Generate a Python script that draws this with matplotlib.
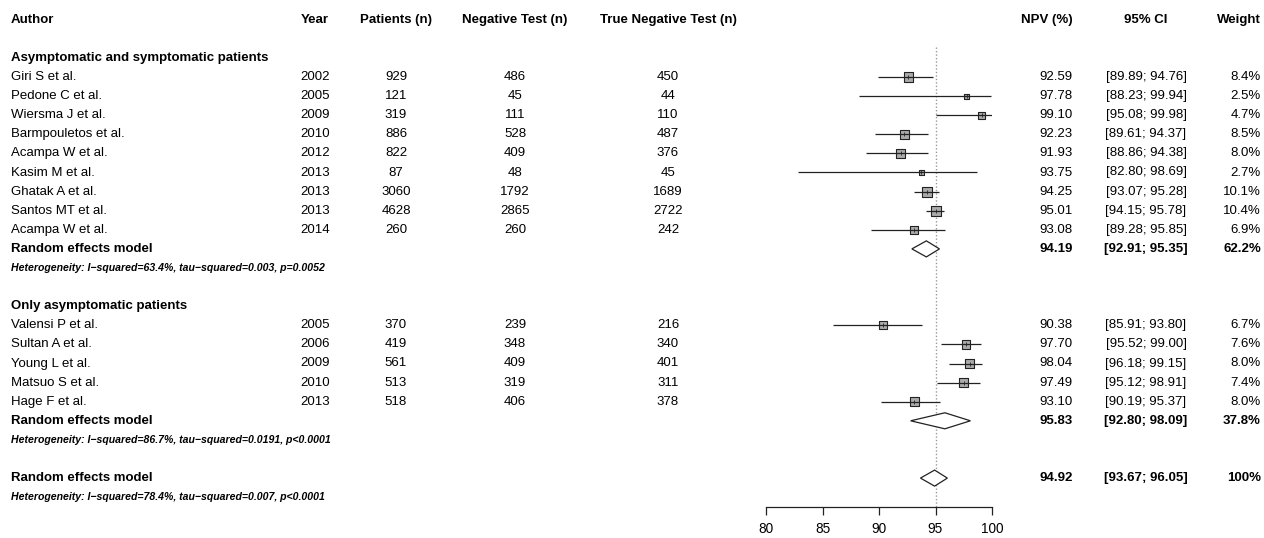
import matplotlib
matplotlib.use("Agg")
import matplotlib.pyplot as plt
from matplotlib.patches import Polygon

plt.rcParams['font.family'] = ['Liberation Sans', 'DejaVu Sans']

# --- data: subgroup 1 (asymptomatic and symptomatic) ---
authors1 = ["Giri S et al.", "Pedone C et al.", "Wiersma J et al.", "Barmpouletos et al.",
            "Acampa W et al.", "Kasim M et al.", "Ghatak A et al.", "Santos MT et al.",
            "Acampa W et al."]
years1 = [2002, 2005, 2009, 2010, 2012, 2013, 2013, 2013, 2014]
patients1 = [929, 121, 319, 886, 822, 87, 3060, 4628, 260]
neg1 = [486, 45, 111, 528, 409, 48, 1792, 2865, 260]
tn1 = [450, 44, 110, 487, 376, 45, 1689, 2722, 242]
npv1 = [92.59, 97.78, 99.10, 92.23, 91.93, 93.75, 94.25, 95.01, 93.08]
lo1 = [89.89, 88.23, 95.08, 89.61, 88.86, 82.80, 93.07, 94.15, 89.28]
hi1 = [94.76, 99.94, 99.98, 94.37, 94.38, 98.69, 95.28, 95.78, 95.85]
w1 = [8.4, 2.5, 4.7, 8.5, 8.0, 2.7, 10.1, 10.4, 6.9]

# --- data: subgroup 2 (only asymptomatic) ---
authors2 = ["Valensi P et al.", "Sultan A et al.", "Young L et al.", "Matsuo S et al.", "Hage F et al."]
years2 = [2005, 2006, 2009, 2010, 2013]
patients2 = [370, 419, 561, 513, 518]
neg2 = [239, 348, 409, 319, 406]
tn2 = [216, 340, 401, 311, 378]
npv2 = [90.38, 97.70, 98.04, 97.49, 93.10]
lo2 = [85.91, 95.52, 96.18, 95.12, 90.19]
hi2 = [93.80, 99.00, 99.15, 98.91, 95.37]
w2 = [6.7, 7.6, 8.0, 7.4, 8.0]

# --- pooled estimates: group 1, group 2, overall ---
pooled_npv = [94.19, 95.83, 94.92]
pooled_lo = [92.91, 92.80, 93.67]
pooled_hi = [95.35, 98.09, 96.05]
pooled_w = ["62.2%", "37.8%", "100%"]
het_text = ["Heterogeneity: I\u2212squared=63.4%, tau\u2212squared=0.003, p=0.0052",
            "Heterogeneity: I\u2212squared=86.7%, tau\u2212squared=0.0191, p<0.0001",
            "Heterogeneity: I\u2212squared=78.4%, tau\u2212squared=0.007, p<0.0001"]
group_titles = ["Asymptomatic and symptomatic patients", "Only asymptomatic patients"]
headers = ["Author", "Year", "Patients (n)", "Negative Test (n)", "True Negative Test (n)",
           "NPV (%)", "95% CI", "Weight"]
xticks = [80, 85, 90, 95, 100]

# row layout
rows1 = list(range(3, 12))
rows2 = list(range(16, 21))
pooled_rows = [12, 21, 24]
het_rows = [13, 22, 25]
title_rows = [2, 15]
axis_row = 25.51

W, H = 1264, 538
fig = plt.figure(figsize=(W / 100, H / 100), dpi=100)
ylim = ((H - 19.7) / 19.1, -19.7 / 19.1)

# text layer in pixel x
tx = fig.add_axes([0, 0, 1, 1])
tx.set_xlim(0, W)
tx.set_ylim(*ylim)
tx.axis('off')

# forest layer
x0, x1 = 766, 992
ax = fig.add_axes([x0 / W, 0, (x1 - x0) / W, 1])
ax.set_xlim(80, 100)
ax.set_ylim(*ylim)
ax.patch.set_alpha(0)
for s in ['top', 'right', 'left']:
    ax.spines[s].set_visible(False)
ax.spines['bottom'].set_position(('data', axis_row))
ax.spines['bottom'].set_bounds(80, 100)
ax.spines['bottom'].set_linewidth(0.9)
ax.spines['bottom'].set_color('#222222')
ax.set_yticks([])
ax.set_xticks(xticks)
ax.tick_params(axis='x', direction='out', length=6, width=0.9, color='#222222',
               labelsize=9.8, pad=5)

fs = 9.5
# column positions (pixels) and alignment
cols = [(11, 'left'), (315, 'center'), (396, 'center'), (515, 'center'), (668, 'center'),
        (1073, 'right'), (1146, 'center'), (1261, 'right')]

for (x, ha), h in zip(cols, headers):
    tx.text(x, 0, h, ha=ha, va='center', fontsize=fs, fontweight='bold')

for r, t in zip(title_rows, group_titles):
    tx.text(11, r, t, ha='left', va='center', fontsize=fs, fontweight='bold')


def study_rows(rows, authors, years, patients, neg, tn, npv, lo, hi, w):
    for i, r in enumerate(rows):
        vals = [authors[i], str(years[i]), str(patients[i]), str(neg[i]), str(tn[i]),
                f"{npv[i]:.2f}", f"[{lo[i]:.2f}; {hi[i]:.2f}]", f"{w[i]:.1f}%"]
        for (x, ha), v in zip(cols, vals):
            tx.text(x, r, v, ha=ha, va='center', fontsize=fs)
    ax.scatter(npv, rows, marker='s', s=[5.2 * v for v in w], color='#ababab',
               edgecolor='#222222', linewidths=0.8, zorder=2)
    ax.hlines(rows, lo, hi, color='#222222', linewidth=0.9, zorder=3)
    ax.scatter(npv, rows, marker='|', s=12, color='#222222', linewidths=0.6, zorder=4)


study_rows(rows1, authors1, years1, patients1, neg1, tn1, npv1, lo1, hi1, w1)
study_rows(rows2, authors2, years2, patients2, neg2, tn2, npv2, lo2, hi2, w2)

# pooled rows
for i, r in enumerate(pooled_rows):
    tx.text(11, r, "Random effects model", ha='left', va='center', fontsize=fs, fontweight='bold')
    vals = [f"{pooled_npv[i]:.2f}", f"[{pooled_lo[i]:.2f}; {pooled_hi[i]:.2f}]", pooled_w[i]]
    for (x, ha), v in zip(cols[5:], vals):
        tx.text(x, r, v, ha=ha, va='center', fontsize=fs, fontweight='bold')
    d = 0.42
    ax.add_patch(Polygon([(pooled_lo[i], r), (pooled_npv[i], r - d), (pooled_hi[i], r),
                          (pooled_npv[i], r + d)], closed=True, facecolor='white',
                         edgecolor='#222222', linewidth=0.9, zorder=3))

for r, t in zip(het_rows, het_text):
    tx.text(11, r, t, ha='left', va='center', fontsize=7.6, fontweight='bold', fontstyle='italic')

# reference line at pooled overall estimate
ax.vlines(95, 1.43, axis_row, color='#999999', linestyle=(0, (1, 1.5)), linewidth=1.0, zorder=1)

plt.savefig("out.png", dpi=100)
